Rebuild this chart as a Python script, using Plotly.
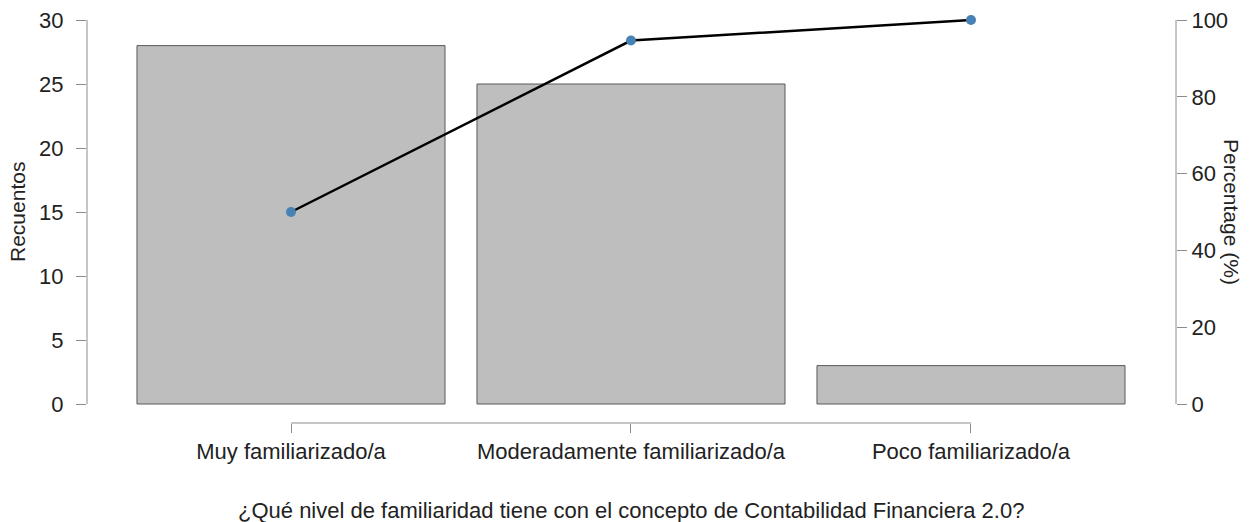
import plotly.graph_objects as go

categories = ["Muy familiarizado/a", "Moderadamente familiarizado/a", "Poco familiarizado/a"]
counts = [28, 25, 3]
cum_percent = [50.0, 94.64, 100.0]
left_ticks = [0, 5, 10, 15, 20, 25, 30]
right_ticks = [0, 20, 40, 60, 80, 100]

FONT = "Liberation Sans, Arial, sans-serif"
AXIS_GREY = "#8c8c8c"

# plot area geometry (px) used to align both y scales
W, H = 1249, 522
L, R, T, B = 87, 73, 10, 99
plot_h = H - T - B
y0_px = 404 - T          # pixel offset (from top of plot area) of value 0
y30_px = 20 - T          # pixel offset of value 30
px_per_unit = (y0_px - y30_px) / 30.0
y_top = 30 + y30_px / px_per_unit
y_bot = -(plot_h - y0_px) / px_per_unit
y2_top = y_top / 30 * 100
y2_bot = y_bot / 30 * 100

fig = go.Figure()
fig.add_trace(go.Bar(
    x=categories, y=counts, width=0.906,
    marker=dict(color="#bebebe", line=dict(color="#5a5a5a", width=1)),
    yaxis="y", showlegend=False,
))
fig.add_trace(go.Scatter(
    x=categories, y=cum_percent, yaxis="y2", mode="lines+markers",
    line=dict(color="black", width=2.5),
    marker=dict(color="#4682b4", size=10),
    cliponaxis=False, showlegend=False,
))

fig.update_layout(
    width=W, height=H,
    margin=dict(l=L, r=R, t=T, b=B, autoexpand=False),
    paper_bgcolor="white", plot_bgcolor="white",
    font=dict(family=FONT, size=22, color="#222222"),
    xaxis=dict(
        type="category", range=[-0.6, 2.603], showgrid=False, zeroline=False,
        showline=False, ticks="outside", ticklen=9, tickcolor=AXIS_GREY,
        tickwidth=1, ticklabelstandoff=0, automargin=False,
    ),
    yaxis=dict(
        range=[y_bot, y_top], tickvals=left_ticks, showgrid=False, zeroline=False,
        showline=False, ticks="outside", ticklen=10, tickcolor=AXIS_GREY,
        tickwidth=1, ticklabelstandoff=8, automargin=False,
    ),
    yaxis2=dict(
        range=[y2_bot, y2_top], tickvals=right_ticks, overlaying="y", side="right",
        showgrid=False, zeroline=False, showline=False, ticks="outside", ticklen=10,
        tickcolor=AXIS_GREY, tickwidth=1, ticklabelstandoff=0, automargin=False,
    ),
    shapes=[
        dict(type="line", xref="paper", yref="y", x0=0, x1=0, y0=0, y1=30,
             line=dict(color=AXIS_GREY, width=1)),
        dict(type="line", xref="paper", yref="y2", x0=1, x1=1, y0=0, y1=100,
             line=dict(color=AXIS_GREY, width=1)),
        dict(type="line", xref="x", yref="paper", x0=0, x1=2, y0=0, y1=0,
             line=dict(color=AXIS_GREY, width=1)),
    ],
    annotations=[
        dict(text="Recuentos", xref="paper", yref="paper", x=-(L - 17) / (W - L - R),
             y=1 - (212 - T) / plot_h, textangle=-90, showarrow=False,
             xanchor="center", yanchor="middle", font=dict(size=21)),
        dict(text="Percentage (%)", xref="paper", yref="paper",
             x=1 + (1232 - (W - R)) / (W - L - R), y=1 - (212 - T) / plot_h,
             textangle=90, showarrow=False, xanchor="center", yanchor="middle",
             font=dict(size=21)),
        dict(text="¿Qué nivel de familiaridad tiene con el concepto de Contabilidad Financiera 2.0?",
             xref="paper", yref="paper", x=(631 - L) / (W - L - R),
             y=-(510 - (H - B)) / plot_h, showarrow=False, xanchor="center",
             yanchor="middle", font=dict(size=22)),
    ],
)

fig.write_html("out.html")
